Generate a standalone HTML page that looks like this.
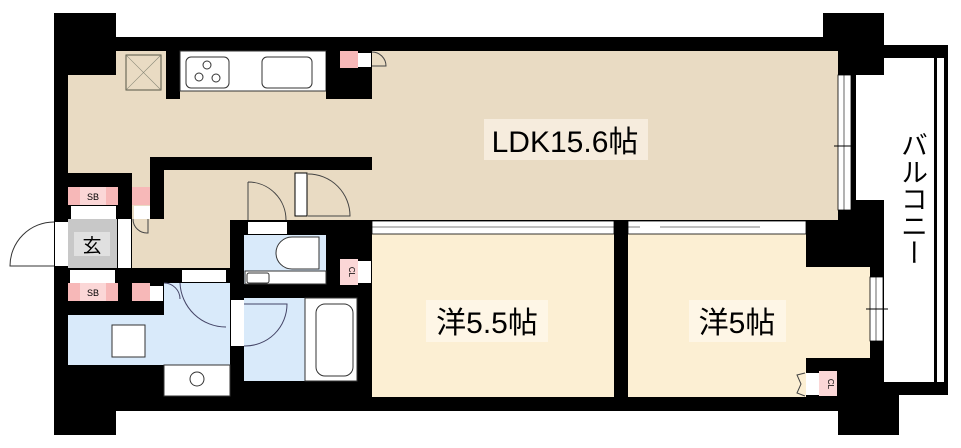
<!DOCTYPE html>
<html><head><meta charset="utf-8"><style>
html,body{margin:0;padding:0;background:#fff;}
svg{display:block}
text{font-family:"Liberation Sans","Noto Sans CJK JP",sans-serif;}
</style></head><body>
<svg width="961" height="448" viewBox="0 0 961 448" xmlns="http://www.w3.org/2000/svg">
<rect width="961" height="448" fill="#fff"/>
<!-- black mass -->
<rect x="54" y="13" width="62" height="422" fill="#000"/>
<rect x="116" y="37" width="740" height="374" fill="#000"/>
<rect x="823" y="13" width="61" height="62" fill="#000"/>
<rect x="838" y="200" width="46" height="180" fill="#000"/>
<rect x="838" y="373" width="61" height="62" fill="#000"/>
<!-- balcony -->
<rect x="884" y="45" width="64" height="13" fill="#000"/>
<rect x="884" y="382" width="64" height="13" fill="#000"/>
<rect x="934" y="58" width="14" height="324" fill="#000"/>
<rect x="937" y="58" width="7" height="324" fill="#fff"/>
<rect x="884" y="58" width="50" height="324" fill="#fff"/>
<!-- LDK tan -->
<g fill="#e9dbc3">
<rect x="68" y="75" width="304" height="82"/>
<rect x="68" y="75" width="82" height="98"/>
<rect x="116" y="51" width="50" height="30"/>
<rect x="180" y="91" width="146" height="20"/>
<rect x="372" y="51" width="466" height="169"/>
<rect x="132" y="170" width="98" height="98"/>
<rect x="164" y="170" width="208" height="50"/>
</g>
<rect x="150" y="157" width="222" height="13" fill="#000"/>
<rect x="150" y="157" width="14" height="62" fill="#000"/>
<!-- kitchen -->
<rect x="166" y="51" width="14" height="48" fill="#000"/>
<rect x="180" y="51" width="146" height="40" fill="#fff" stroke="#333" stroke-width="1"/>
<rect x="186" y="57" width="43" height="31" rx="5" fill="none" stroke="#333"/>
<circle cx="207" cy="65" r="4" fill="none" stroke="#333"/><circle cx="199" cy="77" r="4" fill="none" stroke="#333"/><circle cx="216" cy="78" r="4" fill="none" stroke="#333"/>
<rect x="262" y="57" width="50" height="31" rx="5" fill="none" stroke="#333"/>
<rect x="326" y="51" width="46" height="48" fill="#000"/>
<rect x="340" y="51" width="18" height="17" fill="#f7b8b8"/>
<rect x="358" y="53" width="13" height="14" fill="#fff"/>
<path d="M372 52 A14 14 0 0 1 386 66 L372 66" fill="none" stroke="#444"/>
<rect x="126" y="55" width="35" height="35" fill="none" stroke="#554"/>
<path d="M126 55 L161 90 M161 55 L126 90" stroke="#887" stroke-width="0.6"/>
<!-- doors -->
<rect x="295" y="173" width="12" height="43" fill="#fff" stroke="#000"/>
<path d="M308 174 A42 42 0 0 1 350 216 L308 216" fill="none" stroke="#444"/>
<path d="M248 182 A38 38 0 0 1 286 220 M248 182 L248 220" fill="none" stroke="#444"/>
<!-- entry -->
<rect x="68" y="187" width="50" height="18" fill="#f7b8b8"/>
<rect x="80" y="187" width="26" height="18" fill="#fbd7d7"/>
<text x="93" y="200" font-size="9" text-anchor="middle">SB</text>
<rect x="132" y="187" width="18" height="18" fill="#f7b8b8"/>
<rect x="71" y="206" width="45" height="13" fill="#fff"/>
<rect x="134" y="206" width="16" height="13" fill="#fff"/>
<rect x="68" y="219" width="49" height="49" fill="#c8c8c8"/>
<rect x="74" y="232" width="36" height="24" fill="#e0e0e0"/>
<text x="92" y="252" font-size="19" text-anchor="middle">玄</text>
<rect x="118" y="219" width="13" height="49" fill="#fff"/>
<rect x="55" y="222" width="13" height="44" fill="#fff"/>
<path d="M54 222 A44 44 0 0 0 10 266 L54 266" fill="none" stroke="#333"/>
<path d="M133 219 A14 14 0 0 0 148 233 L148 219" fill="none" stroke="#444"/>
<rect x="70" y="270" width="45" height="13" fill="#fff"/>
<rect x="68" y="283" width="50" height="18" fill="#f7b8b8"/>
<rect x="80" y="283" width="26" height="18" fill="#fbd7d7"/>
<text x="93" y="296" font-size="9" text-anchor="middle">SB</text>
<rect x="132" y="283" width="18" height="18" fill="#f7b8b8"/>
<rect x="150" y="286" width="13" height="15" fill="#fff"/>
<!-- washroom -->
<g fill="#d9eafa">
<rect x="164" y="283" width="66" height="82"/>
<rect x="68" y="315" width="162" height="50"/>
<rect x="244" y="235" width="82" height="49"/>
<rect x="244" y="298" width="61" height="83"/>
</g>
<rect x="182" y="270" width="44" height="12" fill="#fff"/>
<path d="M180 283 A46 46 0 0 0 226 327 M164 283 A16 16 0 0 1 180 299" fill="none" stroke="#446"/>
<rect x="112" y="325" width="33" height="32" fill="#fff" stroke="#333"/>
<rect x="164" y="365" width="66" height="31" fill="#fff" stroke="#333"/>
<circle cx="197" cy="379" r="7" fill="none" stroke="#333"/>
<rect x="231" y="300" width="13" height="46" fill="#fff"/>
<path d="M244 346 A42 42 0 0 0 287 304 L244 304" fill="none" stroke="#446"/>
<rect x="305" y="298" width="52" height="83" fill="#fff" stroke="#333"/>
<rect x="316" y="304" width="37" height="72" rx="9" fill="none" stroke="#333"/>
<rect x="248" y="222" width="39" height="12" fill="#fff"/>
<path d="M319 237 L292 237 A13 13 0 0 0 292 269 L319 269 Z" fill="#fff" stroke="#333"/>
<rect x="245" y="271" width="81" height="13" fill="#fff" stroke="#333"/>
<rect x="247" y="273" width="22" height="10" rx="2" fill="none" stroke="#333"/>
<rect x="340" y="259" width="18" height="26" fill="#fbd7d7"/>
<text x="349" y="272" font-size="8" text-anchor="middle" transform="rotate(90 349 272)">CL</text>
<rect x="358" y="261" width="13" height="22" fill="#fff"/>
<path d="M372 261 A23 23 0 0 1 395 261 A23 23 0 0 1 372 284" fill="none" stroke="#444"/>
<!-- bedrooms -->
<rect x="372" y="234" width="242" height="163" fill="#fcefd3"/>
<rect x="628" y="234" width="178" height="163" fill="#fcefd3"/>
<rect x="806" y="267" width="64" height="91" fill="#fcefd3"/>
<rect x="372" y="221" width="242" height="13" fill="#fff" stroke="#000" stroke-width="0.8"/>
<rect x="628" y="221" width="178" height="13" fill="#fff" stroke="#000" stroke-width="0.8"/>
<line x1="372" y1="227" x2="640" y2="227" stroke="#000" stroke-width="0.6"/>
<line x1="660" y1="227" x2="760" y2="227" stroke="#000" stroke-width="0.6"/>
<rect x="838" y="75" width="13" height="135" fill="#fff" stroke="#000" stroke-width="0.8"/>
<line x1="844" y1="75" x2="844" y2="210" stroke="#000" stroke-width="0.6"/>
<line x1="834" y1="146" x2="856" y2="146" stroke="#000"/>
<rect x="870" y="277" width="13" height="64" fill="#fff" stroke="#000" stroke-width="0.8"/>
<line x1="876" y1="277" x2="876" y2="341" stroke="#000" stroke-width="0.6"/>
<line x1="866" y1="309" x2="888" y2="309" stroke="#000"/>
<rect x="819" y="371" width="18" height="25" fill="#fbd7d7"/>
<text x="828" y="384" font-size="8" text-anchor="middle" transform="rotate(90 828 384)">CL</text>
<rect x="806" y="373" width="13" height="22" fill="#fff"/>
<path d="M805 373 L797 375 L801 384 L797 393 L805 396" fill="none" stroke="#444"/>
<!-- labels -->
<rect x="484" y="119" width="164" height="41" fill="#f6ecdd"/>
<text x="565" y="152" font-size="30" text-anchor="middle">LDK15.6帖</text>
<rect x="426" y="300" width="122" height="42" fill="#fef6e6"/>
<text x="487" y="333" font-size="30" text-anchor="middle">洋5.5帖</text>
<rect x="689" y="300" width="97" height="42" fill="#fef6e6"/>
<text x="737" y="333" font-size="30" text-anchor="middle">洋5帖</text>
<text font-size="27" writing-mode="tb" x="912" y="131">バルコニー</text>
</svg>
</body></html>
